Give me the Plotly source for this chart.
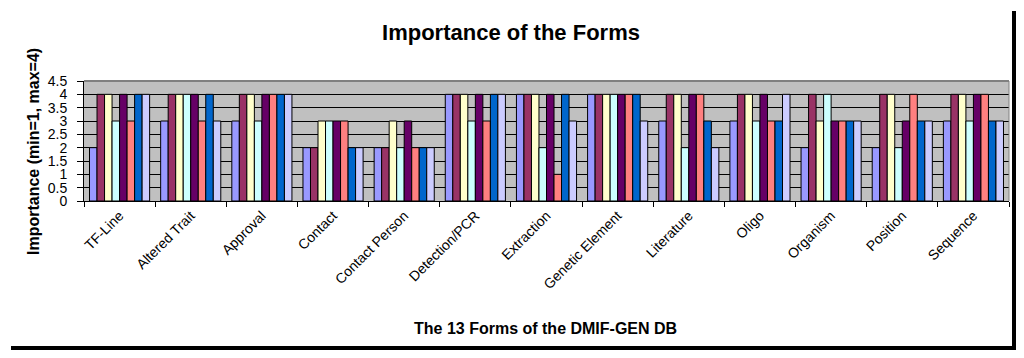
import plotly.graph_objects as go

categories = ["TF-Line", "Altered Trait", "Approval", "Contact", "Contact Person",
              "Detection/PCR", "Extraction", "Genetic Element", "Literature",
              "Oligo", "Organism", "Position", "Sequence"]

s1 = [2, 3, 3, 2, 2, 4, 4, 4, 3, 3, 2, 2, 3]
s2 = [4, 4, 4, 2, 2, 4, 4, 4, 4, 4, 4, 4, 4]
s3 = [4, 4, 4, 3, 3, 4, 4, 4, 4, 4, 3, 4, 4]
s4 = [3, 4, 3, 3, 2, 3, 2, 4, 2, 3, 4, 2, 3]
s5 = [4, 4, 4, 3, 3, 4, 4, 4, 4, 4, 3, 3, 4]
s6 = [3, 3, 4, 3, 2, 3, 1, 4, 4, 3, 3, 4, 4]
s7 = [4, 4, 4, 2, 2, 4, 4, 4, 3, 3, 3, 3, 3]
s8 = [4, 3, 4, 2, 2, 4, 3, 3, 2, 4, 3, 3, 3]

series = [s1, s2, s3, s4, s5, s6, s7, s8]
colors = ["#9999FF", "#993366", "#FFFFCC", "#CCFFFF", "#660066", "#FF8080", "#0066CC", "#CCCCFF"]

yticks = [0, 0.5, 1, 1.5, 2, 2.5, 3, 3.5, 4, 4.5]
ytick_text = ["0", "0.5", "1", "1.5", "2", "2.5", "3", "3.5", "4", "4.5"]

fig = go.Figure()
for i, (vals, c) in enumerate(zip(series, colors)):
    fig.add_trace(go.Bar(x=categories, y=vals, name=f"Series {i+1}",
                         marker=dict(color=c, line=dict(color="black", width=1))))

# page body has an 8px margin on every side; keep the page inside the window
OFF = 8
W, H = 1024 - 2 * OFF, 358 - 2 * OFF
L, T = 84 - OFF, 81 - OFF
pw, ph = 925, 120
R = W - L - pw
B = H - T - ph


def px(x_abs):
    return (x_abs - OFF - L) / pw


def py(y_abs):
    return (T + ph - (y_abs - OFF)) / ph


fig.update_layout(
    width=W, height=H,
    margin=dict(l=L, r=R, t=T, b=B, pad=0),
    paper_bgcolor="white",
    plot_bgcolor="#C0C0C0",
    barmode="group",
    bargap=0.155,
    bargroupgap=0,
    showlegend=False,
    font=dict(family="Liberation Sans, Arial, sans-serif", color="black"),
    title=dict(text="<b>Importance of the Forms</b>", x=(511 - OFF) / W, xref="container",
               xanchor="center",
               y=1 - (32 - OFF) / H, yref="container", yanchor="middle",
               font=dict(size=22, color="black")),
    xaxis=dict(
        type="category",
        tickson="boundaries",
        ticks="outside", ticklen=5, tickcolor="black", tickwidth=1,
        tickangle=-45,
        tickfont=dict(size=14),
        showline=True, linecolor="black", linewidth=1,
        showgrid=False,
        automargin=False,
    ),
    yaxis=dict(
        range=[0, 4.5],
        tickvals=yticks, ticktext=ytick_text,
        ticks="outside", ticklen=6, tickcolor="black", tickwidth=1,
        ticklabelstandoff=7,
        tickfont=dict(size=14),
        showline=True, linecolor="black", linewidth=1,
        showgrid=True, gridcolor="black", gridwidth=1,
        zeroline=False,
        automargin=False,
    ),
    annotations=[
        dict(text="<b>Importance (min=1, max=4)</b>", xref="paper", yref="paper",
             x=px(33), y=py(152), xanchor="center", yanchor="middle",
             textangle=-90, showarrow=False, font=dict(size=16)),
        dict(text="<b>The 13 Forms of the DMIF-GEN DB</b>", xref="paper", yref="paper",
             x=px(545), y=py(328), xanchor="center", yanchor="middle",
             showarrow=False, font=dict(size=16)),
    ],
)

# plot area top/right border (gray) and outer chart shadow border (black)
fig.add_shape(type="line", xref="paper", yref="paper", x0=0, x1=1, y0=1, y1=1,
              line=dict(color="#808080", width=2))
fig.add_shape(type="line", xref="paper", yref="paper", x0=1, x1=1, y0=0, y1=1,
              line=dict(color="#808080", width=1))
fig.add_shape(type="rect", xref="paper", yref="paper",
              x0=px(1012), x1=px(1030), y0=py(360), y1=py(11),
              fillcolor="black", line=dict(width=0))
fig.add_shape(type="rect", xref="paper", yref="paper",
              x0=px(11), x1=px(1030), y0=py(360), y1=py(346),
              fillcolor="black", line=dict(width=0))

fig.write_html("out.html")
